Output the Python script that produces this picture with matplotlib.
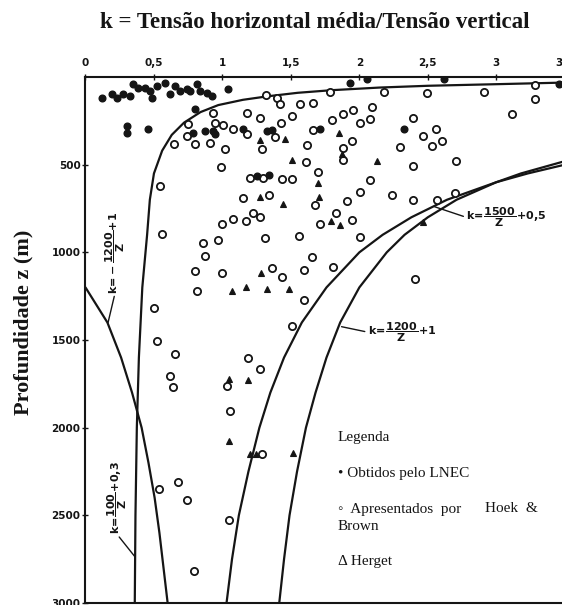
import matplotlib
matplotlib.use("Agg")
import matplotlib.pyplot as plt

plt.rcParams['mathtext.fontset'] = 'dejavusans'
plt.rcParams['mathtext.default'] = 'bf'

# Eixos
x_ticks = [0, 0.5, 1, 1.5, 2, 2.5, 3, 3.5]
x_labels = ['0', '0,5', '1', '1,5', '2', '2,5', '3', '3,5']
y_ticks = [500, 1000, 1500, 2000, 2500, 3000]
y_labels = ['500', '1000', '1500', '2000', '2500', '3000']

# Curvas (k, z)
z_100 = [32, 40, 50, 60, 75, 90, 110, 130, 160, 200, 260, 330, 420, 550, 700, 900, 1200, 1600, 2000, 2500, 3000]
k_100 = [3.48, 3.05, 2.5, 2.15, 1.8, 1.55, 1.33, 1.15, 0.97, 0.84, 0.72, 0.63, 0.56, 0.50, 0.47, 0.45, 0.415, 0.39, 0.375, 0.365, 0.36]

z_neg = [1200, 1400, 1600, 1800, 2000, 2200, 2400, 2600, 2800, 3000]
k_neg = [0.0, 0.16, 0.26, 0.34, 0.41, 0.46, 0.505, 0.54, 0.57, 0.60]

z_1500 = [500, 550, 600, 700, 800, 900, 1000, 1200, 1400, 1600, 1800, 2000, 2250, 2500, 2750, 3000]
k_1500 = [3.5, 3.23, 3.0, 2.64, 2.38, 2.17, 2.0, 1.76, 1.58, 1.45, 1.35, 1.27, 1.19, 1.12, 1.07, 1.03]

z_1200 = [480, 550, 600, 700, 800, 900, 1000, 1200, 1400, 1600, 1800, 2000, 2250, 2500, 2750, 3000]
k_1200 = [3.5, 3.18, 3.0, 2.71, 2.5, 2.33, 2.2, 2.0, 1.86, 1.76, 1.68, 1.61, 1.545, 1.49, 1.45, 1.415]

# Obtidos pelo LNEC (pontos cheios)
lnec_k = [0.118, 0.191, 0.228, 0.276, 0.325, 0.349, 0.385, 0.434, 0.471, 0.483, 0.520, 0.580, 0.617, 0.653,
          0.690, 0.739, 0.763, 0.812, 0.836, 0.885, 0.921, 1.042, 0.301, 0.301, 0.458, 0.799, 0.787, 0.872,
          0.933, 0.945, 1.152, 1.323, 1.359, 1.252, 1.339, 1.712, 2.325, 1.931, 2.057, 2.617, 3.456]
lnec_z = [118, 99, 118, 99, 108, 42, 61, 61, 80, 118, 51, 32, 99, 51,
          80, 70, 80, 42, 80, 90, 108, 67, 279, 318, 295, 181, 318, 308,
          308, 327, 298, 308, 302, 564, 559, 294, 296, 36, 14, 9, 40]

# Herget (triangulos)
herget_k = [1.274, 1.456, 1.848, 1.872, 1.505, 2.131, 1.699, 1.274, 1.445, 1.708, 1.792, 1.861,
            2.466, 1.279, 1.073, 1.172, 1.323, 1.485, 1.050, 1.184, 1.047, 1.201, 1.245, 1.515]
herget_z = [359, 353, 322, 440, 476, 479, 606, 686, 727, 684, 821, 844,
            827, 1117, 1223, 1197, 1211, 1211, 1725, 1730, 2078, 2149, 2149, 2146]

# Hoek & Brown (circulos abertos)
hb_k = [1.321, 1.398, 1.420, 1.566, 1.664, 1.785, 2.182, 2.496, 2.910, 3.281, 3.281, 3.113,
        0.933, 1.177, 1.274, 1.425, 1.505, 1.797, 1.882, 1.953, 2.007, 2.080, 2.089, 2.393,
        0.747, 0.945, 1.006, 1.079, 1.182, 1.383, 1.663, 2.464, 2.558,
        0.646, 0.739, 0.799, 0.909, 1.018, 1.286, 1.615, 1.943, 1.882, 1.882, 2.296, 2.527, 2.600, 2.704,
        1.613, 2.391, 0.987, 1.699, 1.432, 1.511, 1.201, 1.296, 0.544, 2.080, 2.004,
        1.341, 1.152, 1.675, 1.907, 2.241, 2.391, 2.564, 2.695,
        1.223, 1.274, 1.172, 1.077, 0.994, 1.831, 1.943, 1.715,
        0.556, 0.855, 0.967, 1.308, 1.558, 2.006,
        0.870, 1.651, 0.799, 0.994, 1.364, 1.432, 1.595, 1.804, 2.407,
        0.812, 1.595, 0.500, 1.505, 0.520, 0.653, 0.620, 0.641, 1.186, 1.271, 1.031, 1.058, 1.288,
        0.675, 0.539, 0.743, 1.047, 0.792]
hb_z = [105, 117, 156, 156, 151, 83, 87, 90, 88, 47, 127, 211,
        204, 207, 234, 261, 221, 245, 213, 188, 261, 239, 169, 231,
        268, 261, 275, 299, 327, 340, 302, 336, 299,
        382, 338, 383, 375, 410, 412, 390, 367, 403, 476, 397, 392, 364, 478,
        483, 510, 516, 543, 579, 579, 576, 576, 623, 587, 654,
        673, 689, 731, 706, 673, 701, 703, 661,
        777, 796, 819, 810, 836, 773, 815, 840,
        895, 945, 929, 920, 906, 912,
        1021, 1024, 1106, 1117, 1091, 1139, 1103, 1085, 1153,
        1218, 1271, 1319, 1422, 1508, 1579, 1707, 1766, 1604, 1668, 1765, 1905, 2149,
        2309, 2350, 2412, 2526, 2820]

ink = '#151515'
serif = ['Liberation Serif', 'DejaVu Serif']

fig = plt.figure(figsize=(5.62, 6.05), dpi=100)
ax = fig.add_axes([0.1521, 0.0033, 0.865, 0.8694])

# curvas
for kk, zz in [(k_100, z_100), (k_neg, z_neg), (k_1500, z_1500), (k_1200, z_1200)]:
    ax.plot(kk, zz, color=ink, lw=1.6, solid_capstyle='round', zorder=2)

# pontos
ax.plot(hb_k, hb_z, 'o', ms=5.2, mfc='white', mec=ink, mew=1.3, zorder=3)
ax.plot(lnec_k, lnec_z, 'o', ms=4.8, mfc=ink, mec=ink, zorder=4)
ax.plot(herget_k, herget_z, '^', ms=4.6, mfc=ink, mec=ink, mew=0.8, zorder=4)

ax.set_xlim(0, 3.55)
ax.set_ylim(3000, 0)
ax.xaxis.tick_top()
ax.set_xticks(x_ticks)
ax.set_xticklabels(x_labels)
ax.set_yticks(y_ticks)
ax.set_yticklabels(y_labels)
ax.tick_params(direction='inout', length=5, width=1, colors=ink, labelsize=7.5)
ax.tick_params(axis='x', pad=4)
ax.tick_params(axis='y', pad=1)
for lab in ax.get_xticklabels() + ax.get_yticklabels():
    lab.set_fontweight('bold')

ax.spines['right'].set_visible(False)
for s in ['left', 'top', 'bottom']:
    ax.spines[s].set_linewidth(1.5)
    ax.spines[s].set_color(ink)

# etiquetas das curvas
arrow = dict(arrowstyle='-', lw=1, color=ink, shrinkA=0, shrinkB=0)
ax.annotate(r'$k\!=\!\dfrac{1500}{Z}\!+\!0{,}5$', xy=(2.55, 740), xytext=(2.78, 800),
            ha='left', va='center', fontsize=8, color=ink,
            arrowprops=dict(arrow, relpos=(0, 0.5)))
ax.annotate(r'$k\!=\!\dfrac{1200}{Z}\!+\!1$', xy=(1.87, 1424), xytext=(2.06, 1455),
            ha='left', va='center', fontsize=8, color=ink,
            arrowprops=dict(arrow, relpos=(0, 0.5)))
ax.annotate(r'$k\!=\!-\dfrac{1200}{Z}\!+\!1$', xy=(0.165, 1400), xytext=(0.215, 1000),
            ha='center', va='center', rotation=90, fontsize=8, color=ink,
            arrowprops=dict(arrow, relpos=(0.5, 0)))
ax.annotate(r'$k\!=\!\dfrac{100}{Z}\!+\!0{,}3$', xy=(0.361, 2736), xytext=(0.23, 2400),
            ha='center', va='center', rotation=90, fontsize=8, color=ink,
            arrowprops=dict(arrow, relpos=(0.5, 0)))

# legenda
fig.text(0.601, 1 - 438 / 605, 'Legenda', family=serif, fontsize=11, va='center', color=ink)
fig.text(0.601, 1 - 473 / 605, '\u2022 Obtidos pelo LNEC', family=serif, fontsize=11, va='center', color=ink)
fig.text(0.601, 1 - 509 / 605, '\u25e6  Apresentados  por', family=serif, fontsize=11, va='center', color=ink)
fig.text(0.863, 1 - 509 / 605, 'Hoek  &', family=serif, fontsize=11, va='center', color=ink)
fig.text(0.601, 1 - 527 / 605, 'Brown', family=serif, fontsize=11, va='center', color=ink)
fig.text(0.601, 1 - 562 / 605, '\u0394 Herget', family=serif, fontsize=11, va='center', color=ink)

# titulos
fig.text(0.5597, 1 - 22 / 605, 'k = Tensão horizontal média/Tensão vertical',
         family=serif, fontsize=16.5, fontweight='bold', ha='center', va='center', color=ink)
fig.text(23 / 562, 1 - 322 / 605, 'Profundidade z (m)', family=serif, fontsize=16,
         fontweight='bold', rotation=90, ha='center', va='center', color=ink)

fig.savefig('out.png', dpi=100)
